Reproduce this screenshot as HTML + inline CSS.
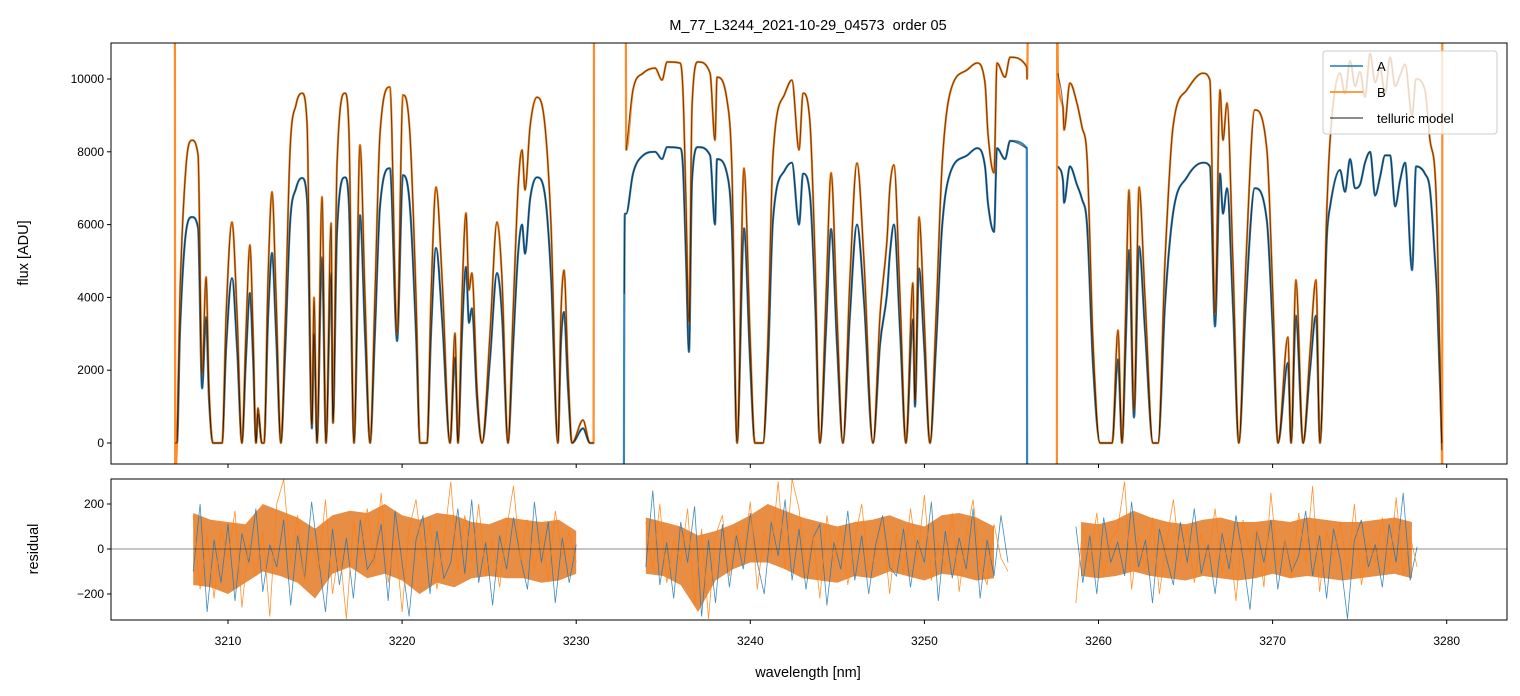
<!DOCTYPE html>
<html><head><meta charset="utf-8"><style>
body{margin:0;background:#fff;}
svg{display:block;font-family:"Liberation Sans","DejaVu Sans",sans-serif;}
</style></head><body>
<svg id="chart" width="1520" height="696" viewBox="0 0 1520 696">
<defs>
<clipPath id="clipTop"><rect x="111" y="43" width="1396" height="421"/></clipPath>
<clipPath id="clipBot"><rect x="111" y="479" width="1396" height="141"/></clipPath>
</defs>
<rect width="1520" height="696" fill="#fff"/>
<text x="808" y="30" text-anchor="middle" font-size="14.5" fill="#000">M_77_L3244_2021-10-29_04573&#160; order 05</text>
<g id="topPlot" clip-path="url(#clipTop)"></g>
<g id="botPlot" clip-path="url(#clipBot)"></g>
<rect x="111" y="43" width="1396" height="421" fill="none" stroke="#000" stroke-width="1"/>
<rect x="111" y="479" width="1396" height="141" fill="none" stroke="#000" stroke-width="1"/>
<g id="axes"></g>
<text transform="translate(28,253) rotate(-90)" text-anchor="middle" font-size="14.5">flux [ADU]</text>
<text transform="translate(38,549) rotate(-90)" text-anchor="middle" font-size="14.5">residual</text>
<text x="808" y="677" text-anchor="middle" font-size="14.5">wavelength [nm]</text>
<g>
<rect x="1323" y="51" width="174" height="83" rx="3" fill="#fff" fill-opacity="0.8" stroke="#ccc"/>
<line x1="1330" y1="66" x2="1363" y2="66" stroke="#1f77b4" stroke-width="1.5"/>
<text x="1377" y="71" font-size="13">A</text>
<line x1="1330" y1="92" x2="1363" y2="92" stroke="#ff7f0e" stroke-width="1.5"/>
<text x="1377" y="97" font-size="13">B</text>
<line x1="1330" y1="118" x2="1363" y2="118" stroke="#000" stroke-opacity="0.6" stroke-width="1.5"/>
<text x="1377" y="123" font-size="13">telluric model</text>
</g>
</svg>
<script>
const wl1=[3206.95,3206.97,3207.07,3207.24,3207.59,3207.93,3208.28,3208.51,3208.74,3208.91,3209.14,3209.66,3209.89,3210.23,3210.52,3210.80,3211.03,3211.26,3211.44,3211.61,3211.72,3211.95,3212.07,3212.30,3212.53,3212.76,3213.04,3213.27,3213.56,3213.91,3214.25,3214.54,3214.82,3214.94,3215.11,3215.40,3215.63,3215.92,3216.03,3216.26,3216.72,3216.95,3217.24,3217.58,3217.87,3218.16,3218.44,3218.73,3219.30,3219.71,3220.05,3220.45,3220.80,3221.03,3221.43,3221.66,3221.95,3222.30,3222.75,3223.04,3223.21,3223.44,3223.67,3223.84,3224.01,3224.30,3224.59,3225.05,3225.45,3225.74,3226.08,3226.37,3226.66,3226.89,3227.06,3227.35,3227.75,3228.21,3228.55,3228.95,3229.12,3229.30,3229.53,3229.76,3230.39,3230.79,3231.00,3231.02];
const b1=[12000,-800,0,4000,7600,8320,7900,1900,4560,1500,0,0,3500,6070,3500,0,3000,5440,3000,0,960,0,0,4500,6900,4000,0,3000,8000,9300,9610,8800,500,4000,0,6760,0,6040,550,7640,9610,8500,0,8190,4000,0,4000,8500,9780,3020,9560,8500,4000,0,0,4000,7030,4500,0,3020,0,4000,6320,4200,4670,1500,0,3000,6070,4500,0,3500,7000,8050,6950,8700,9500,8700,6000,0,3500,4750,2000,0,630,0,0,12000];
const a1=[0,0,0,3000,5800,6210,5900,1500,3460,1200,0,0,2600,4530,2600,0,2300,4120,2300,0,800,0,0,3400,5220,3000,0,2300,6000,7000,7280,6700,400,3000,0,5100,0,4670,550,5800,7300,6500,0,6260,3000,0,3000,6500,7550,2800,7360,6500,3000,0,0,3000,5360,3400,0,2360,0,3000,4840,3300,3700,1200,0,2300,4670,3500,0,2600,5200,6000,5200,6700,7300,6800,4600,0,2700,3600,1500,0,400,0,0,0];
const wl2=[3232.74,3232.76,3232.80,3232.85,3232.87,3233.26,3233.84,3234.53,3234.93,3235.22,3235.96,3236.13,3236.31,3236.48,3236.65,3237.00,3237.69,3237.97,3238.09,3238.66,3238.95,3239.24,3239.64,3239.98,3240.27,3240.73,3241.02,3241.30,3241.99,3242.39,3242.80,3243.03,3243.43,3243.72,3244.00,3244.35,3244.64,3244.98,3245.32,3245.72,3246.13,3246.53,3247.05,3247.45,3247.85,3248.02,3248.25,3248.60,3248.94,3249.34,3249.46,3249.69,3249.98,3250.32,3250.67,3251.01,3251.47,3252.45,3253.02,3253.48,3253.65,3254.00,3254.17,3254.63,3254.92,3255.88,3255.90,3255.95];
const b2=[null,null,null,12000,8050,9700,10160,10300,9970,10470,10440,9700,6480,3300,9230,10470,10160,8320,10050,9420,7420,0,7550,3000,0,0,3000,7860,9600,9970,8050,9610,8790,5000,0,4000,7420,3500,0,4500,7690,5000,0,3500,5580,7030,7640,4000,0,4400,1180,6210,3500,0,3500,7580,9610,10250,10440,9890,8520,7420,10440,10050,10600,10330,10000,12000];
const a2=[-1000,4100,6300,6300,6300,7400,7900,8000,7800,8130,8100,7600,5000,2500,7200,8130,7900,6000,7800,7400,5800,0,5900,2300,0,0,2300,6100,7500,7700,6000,7400,6800,3900,0,3100,5880,2700,0,3500,6000,3900,0,2700,4100,5200,6000,3100,0,3400,1000,4800,2700,0,2700,5900,7400,7900,8100,7600,6600,5800,8100,7800,8300,8100,-1000,null];
const wl3=[3257.61,3257.63,3257.67,3257.96,3258.02,3258.36,3258.76,3259.05,3259.34,3259.68,3260.09,3260.78,3261.12,3261.35,3261.58,3261.75,3262.04,3262.33,3262.67,3263.13,3263.42,3263.82,3264.28,3265.08,3266.00,3266.40,3266.69,3266.98,3267.15,3267.38,3267.72,3268.06,3268.47,3268.98,3269.67,3270.02,3270.31,3270.88,3271.06,3271.34,3271.75,3272.15,3272.49,3272.72,3273.12,3273.30,3273.87,3274.16,3274.45,3274.74,3275.02,3275.31,3275.60,3275.89,3276.17,3276.46,3276.75,3277.04,3277.32,3277.61,3278.01,3278.24,3278.75,3279.04,3279.33,3279.45,3279.72,3279.74,3279.75];
const b3=[-1000,12000,10160,9230,8600,9890,9340,8680,7860,2830,0,0,3100,0,4000,6950,900,7030,4000,0,0,5000,8680,9700,10160,9970,3570,9700,8320,9340,5000,0,5000,9150,8050,4000,0,2910,0,4480,0,2500,4480,0,6480,8320,10160,9600,10500,9800,10200,9500,10700,9900,10300,9600,10600,9800,10100,10400,9000,10000,9700,8320,7420,6000,-200,-1000,12000];
const a3=[null,null,7600,7200,6600,7600,7100,6700,6000,2200,0,0,2300,0,3000,5300,700,5400,3100,0,0,3800,6300,7300,7700,7600,3200,7400,6300,7000,3800,0,3900,7000,6100,3000,0,2200,0,3500,0,2000,3500,0,5700,6500,7500,6900,7800,7000,7100,7700,8000,6800,7300,7900,7900,6500,7200,7700,4750,7600,7400,6950,5000,4000,0,null,null];

const rStart=[3208.0,3234.0,3258.7];
const rStep=0.4;
const resB1=[150,-180,60,-220,90,-40,170,-260,30,-120,80,-300,200,310,-60,150,-140,40,-90,220,-200,10,-310,120,-30,180,-80,250,-150,60,-280,90,220,-40,120,-180,30,300,-100,150,-60,200,-120,40,-170,90,280,-50,130,-90,60,-140,170,-30,80,-60];
const resA1=[-100,200,-280,40,-150,110,-230,70,-60,180,-190,20,-80,130,-250,60,-130,210,-40,-280,90,-160,50,-220,130,-90,-40,110,-230,170,-60,-300,40,150,-200,80,-130,-60,180,-110,220,-150,30,-250,60,-90,140,-40,-180,210,-60,120,-240,50,-150,20];
const resB2=[120,-90,200,-150,40,-60,180,-250,90,-310,60,150,-120,100,-40,210,-180,80,-20,300,-90,310,180,-130,60,-220,150,-60,100,-160,40,200,-90,-30,130,-200,70,-110,180,-50,240,-140,30,-80,160,-190,60,220,-70,-160,110,-40,-100];
const resA2=[-80,260,-160,30,-220,120,-60,190,-300,40,-240,110,-170,60,-90,160,-60,-200,120,-30,220,-140,90,-180,50,110,-250,30,-90,170,-140,60,-200,20,150,-80,-120,90,-170,40,-60,210,-230,80,-130,50,-90,180,-220,40,-120,150,-60];
const resB3=[-240,110,-60,160,-120,40,90,300,-180,60,-90,140,-200,30,220,-60,100,-150,70,-40,180,-110,50,-230,130,-20,90,-170,250,-80,40,-130,160,-60,280,-190,80,-40,120,-100,200,-160,30,-60,140,-90,230,-120,60,-80];
const resA3=[100,-150,60,-200,140,-60,30,-120,210,-80,40,-240,90,-40,-160,120,-60,180,-110,20,-200,70,-90,150,-40,-270,80,-60,130,-180,40,-100,-30,170,-120,60,-220,90,-50,-310,40,130,-80,20,-170,110,-60,250,-140,10];
const envStart=[3208,3234,3259];
const envUp1=[160,130,120,110,200,170,140,90,150,170,160,200,150,130,160,150,120,110,140,130,120,130,80];
const envLo1=[-160,-170,-200,-150,-100,-120,-150,-220,-110,-80,-130,-110,-140,-200,-150,-170,-130,-120,-130,-130,-150,-140,-110];
const envUp2=[140,120,100,60,80,110,150,200,170,140,120,100,120,130,150,120,100,150,160,140,100];
const envLo2=[-110,-120,-160,-280,-140,-90,-60,-60,-90,-130,-140,-150,-120,-130,-100,-120,-140,-110,-120,-140,-130];
const envUp3=[120,110,130,170,140,120,110,130,140,120,120,130,120,140,130,120,120,130,140,120];
const envLo3=[-120,-130,-120,-100,-120,-130,-140,-120,-130,-140,-130,-110,-130,-120,-130,-140,-130,-120,-110,-130];

const xTicks=[3210,3220,3230,3240,3250,3260,3270,3280];
const yTicks=[0,2000,4000,6000,8000,10000];
const rTicks=[-200,0,200];

const NS="http://www.w3.org/2000/svg";
const xs=w=>228+(w-3210)*17.41;
const ys=f=>443-f*0.0364;
const yr=r=>549-r*0.225;

function mk(tag,attrs,parent){const e=document.createElementNS(NS,tag);for(const k in attrs)e.setAttribute(k,attrs[k]);parent.appendChild(e);return e;}
// monotone cubic (Fritsch-Carlson) through a run of pixel points
function monoRun(P){
  const n=P.length; if(n<2)return "";
  let d="M"+P[0][0].toFixed(1)+","+P[0][1].toFixed(1);
  if(n===2)return d+"L"+P[1][0].toFixed(1)+","+P[1][1].toFixed(1);
  const dx=[],m=[],t=new Array(n);
  for(let i=0;i<n-1;i++){dx[i]=Math.max(P[i+1][0]-P[i][0],1e-6);m[i]=(P[i+1][1]-P[i][1])/dx[i];}
  t[0]=m[0];t[n-1]=m[n-2];
  for(let i=1;i<n-1;i++){t[i]=(m[i-1]*m[i]<=0)?0:(m[i-1]+m[i])/2;}
  for(let i=0;i<n-1;i++){
    if(m[i]===0){t[i]=0;t[i+1]=0;continue;}
    const a=t[i]/m[i],b=t[i+1]/m[i],s=a*a+b*b;
    if(s>9){const k=3/Math.sqrt(s);t[i]=k*a*m[i];t[i+1]=k*b*m[i];}
  }
  for(let i=0;i<n-1;i++){
    const h=dx[i]/3;
    d+="C"+(P[i][0]+h).toFixed(1)+","+(P[i][1]+t[i]*h).toFixed(1)+" "+(P[i+1][0]-h).toFixed(1)+","+(P[i+1][1]-t[i+1]*h).toFixed(1)+" "+P[i+1][0].toFixed(1)+","+P[i+1][1].toFixed(1);
  }
  return d;
}
function pathFrom(wl,vals){
  let d="",run=[];
  for(let i=0;i<wl.length;i++){const v=vals[i];if(v===null||v===undefined){d+=monoRun(run);run=[];continue;}run.push([xs(wl[i]),ys(v)]);}
  return d+monoRun(run);
}

const topG=document.getElementById('topPlot');
const segs=[[wl1,a1,b1],[wl2,a2,b2],[wl3,a3,b3]];
segs.forEach((s,i)=>{
  const pa=mk('path',{d:pathFrom(s[0],s[1]),fill:'none',stroke:'#1f77b4','stroke-opacity':0.9,'stroke-width':2.2,'stroke-linejoin':'round'},topG);
  
  
  const pb=mk('path',{d:pathFrom(s[0],s[2]),fill:'none',stroke:'#ff7f0e','stroke-opacity':0.9,'stroke-width':2.2,'stroke-linejoin':'round'},topG);
  
  
});
segs.forEach((s,i)=>{
  [s[1],s[2]].forEach(v=>{
    const vv=v.map(x=>(x===null||x>11000||x<-500)?null:x);
    const pm=mk('path',{d:pathFrom(s[0],vv),fill:'none',stroke:'#000','stroke-opacity':0.55,'stroke-width':1.1,'stroke-linejoin':'round'},topG);
    
    
  });
});

const botG=document.getElementById('botPlot');
const envs=[[envUp1,envLo1],[envUp2,envLo2],[envUp3,envLo3]];
envs.forEach((e,i)=>{
  let d="";
  e[0].forEach((v,k)=>{d+=(k?"L":"M")+xs(envStart[i]+k).toFixed(1)+","+yr(v).toFixed(1);});
  for(let k=e[1].length-1;k>=0;k--){d+="L"+xs(envStart[i]+k).toFixed(1)+","+yr(e[1][k]).toFixed(1);}
  const p=mk('path',{d:d+"Z",fill:'#e6873a','fill-opacity':0.95,stroke:'none'},botG);
  
  
});
function resPath(start,vals){let d="";vals.forEach((v,k)=>{d+=(k?"L":"M")+xs(start+k*rStep).toFixed(1)+","+yr(v).toFixed(1);});return d;}
[[resA1,resB1],[resA2,resB2],[resA3,resB3]].forEach((r,i)=>{
  const pa=mk('path',{d:resPath(rStart[i],r[0]),fill:'none',stroke:'#1f77b4','stroke-width':0.8,'stroke-opacity':0.85},botG);
  
  
  const pb=mk('path',{d:resPath(rStart[i],r[1]),fill:'none',stroke:'#ff7f0e','stroke-width':0.8,'stroke-opacity':0.85},botG);
  
  
});
const zl=mk('line',{x1:111,x2:1507,y1:yr(0),y2:yr(0),stroke:'#000','stroke-opacity':0.6,'stroke-width':0.8},botG);



const ax=document.getElementById('axes');
xTicks.forEach(t=>{
  const x=xs(t);
  const t1=mk('line',{x1:x,x2:x,y1:464,y2:468,stroke:'#000'},ax);
  
  
  const t2=mk('line',{x1:x,x2:x,y1:620,y2:624,stroke:'#000'},ax);
  
  
  const tl=mk('text',{x:x,y:645,'text-anchor':'middle','font-size':12},ax);
  tl.textContent=t;
  
  
});
yTicks.forEach(t=>{
  const y=ys(t);
  const l=mk('line',{x1:107,x2:111,y1:y,y2:y,stroke:'#000'},ax);
  
  
  const tl=mk('text',{x:104,y:y+4,'text-anchor':'end','font-size':12},ax);
  tl.textContent=t;
  
  
});
rTicks.forEach(t=>{
  const y=yr(t);
  const l=mk('line',{x1:107,x2:111,y1:y,y2:y,stroke:'#000'},ax);
  
  
  const tl=mk('text',{x:104,y:y+4,'text-anchor':'end','font-size':12},ax);
  tl.textContent=t<0?'\u2212'+Math.abs(t):t;
  
  
});
</script>
</body></html>
